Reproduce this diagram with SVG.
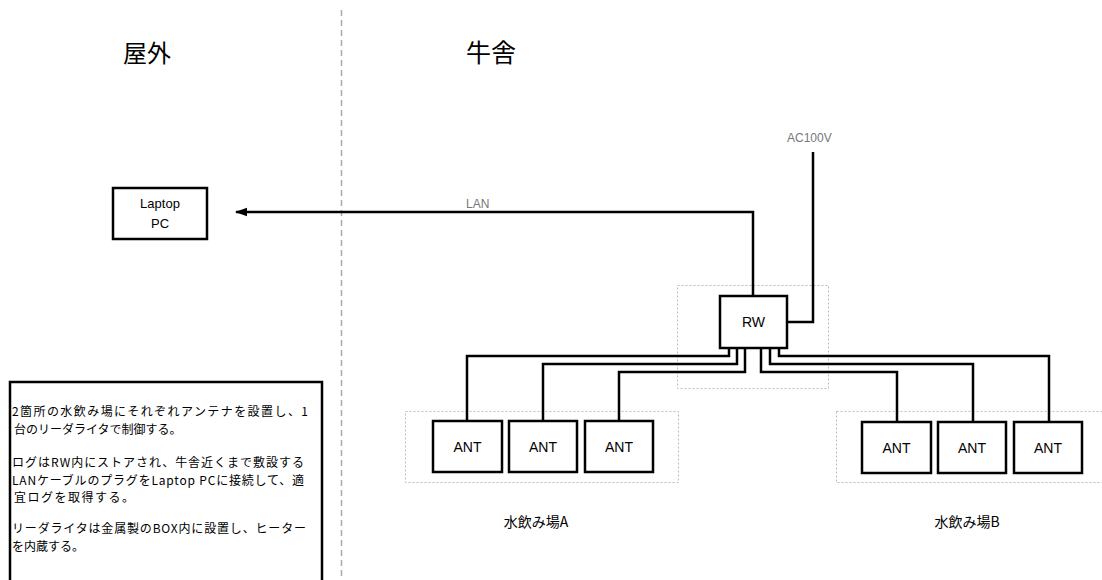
<svg xmlns="http://www.w3.org/2000/svg" width="1102" height="580" viewBox="0 0 1102 580">
<defs>
<style>
.t{font-family:"Liberation Sans","Noto Sans CJK JP",sans-serif;fill:#000}
.j{font-family:"Noto Sans CJK JP","Liberation Sans",sans-serif;fill:#000}
.box{fill:#fff;stroke:#000;stroke-width:2.5}
.wire{fill:none;stroke:#000;stroke-width:2.5}
.grp{fill:none;stroke:#bbb;stroke-width:1;stroke-dasharray:2 2}
.lbl{font-family:"Liberation Sans",sans-serif;fill:#777;font-size:12px}
</style>
<marker id="arr" viewBox="0 0 10 10" refX="9" refY="5" markerWidth="5" markerHeight="5" orient="auto-start-reverse">
<path d="M0,1.5 L10,5 L0,8.5 z" fill="#000"/>
</marker>
</defs>
<rect width="1102" height="580" fill="#fff"/>
<line x1="341.5" y1="10" x2="341.5" y2="580" stroke="#aaa" stroke-width="1.5" stroke-dasharray="6 4"/>
<text class="j" x="123" y="62" font-size="24">屋外</text>
<text class="j" x="466" y="62" font-size="25">牛舎</text>

<rect class="grp" x="677.5" y="285.5" width="151" height="103"/>
<rect class="grp" x="405.5" y="411.5" width="273" height="71"/>
<rect class="grp" x="836.5" y="411.5" width="270" height="71"/>

<g id="connectors">
<path class="wire" d="M753,297 V212 H236" marker-end="url(#arr)"/>
<path class="wire" d="M813,152 V322 H787"/>
<path class="wire" d="M729,348 V356 H467 V421"/>
<path class="wire" d="M737,348 V364 H543 V421"/>
<path class="wire" d="M745,348 V372 H619 V421"/>
<path class="wire" d="M761,348 V372 H897 V422"/>
<path class="wire" d="M770,348 V364 H973 V422"/>
<path class="wire" d="M779,348 V356 H1049 V422"/>
<text class="lbl" x="466" y="208">LAN</text>
<text class="lbl" x="787" y="142">AC100V</text>
</g>

<g id="laptop">
<rect class="box" x="113" y="188" width="94" height="51"/>
<text class="t" x="160" y="208" font-size="13" text-anchor="middle">Laptop</text>
<text class="t" x="160" y="228" font-size="13" text-anchor="middle">PC</text>
</g>
<g id="rw">
<rect class="box" x="720" y="296" width="67" height="52"/>
<text class="t" x="753.5" y="327" font-size="14" text-anchor="middle">RW</text>
</g>
<g id="antA1"><rect class="box" x="433" y="421" width="69" height="51"/><text class="t" x="467.5" y="452" font-size="14" text-anchor="middle">ANT</text></g>
<g id="antA2"><rect class="box" x="509" y="421" width="68" height="51"/><text class="t" x="543" y="452" font-size="14" text-anchor="middle">ANT</text></g>
<g id="antA3"><rect class="box" x="585" y="421" width="68" height="51"/><text class="t" x="619" y="452" font-size="14" text-anchor="middle">ANT</text></g>
<g id="antB1"><rect class="box" x="862" y="422" width="69" height="51"/><text class="t" x="896.5" y="453" font-size="14" text-anchor="middle">ANT</text></g>
<g id="antB2"><rect class="box" x="938" y="422" width="68" height="51"/><text class="t" x="972" y="453" font-size="14" text-anchor="middle">ANT</text></g>
<g id="antB3"><rect class="box" x="1014" y="422" width="68" height="51"/><text class="t" x="1048" y="453" font-size="14" text-anchor="middle">ANT</text></g>

<g id="labelA"><text class="j" x="536" y="527" font-size="14" text-anchor="middle">水飲み場A</text></g>
<g id="labelB"><text class="j" x="967" y="527" font-size="14" text-anchor="middle">水飲み場B</text></g>

<g id="note">
<rect class="box" x="10" y="382" width="312" height="210"/>
<g class="j" font-size="12">
<text x="12" y="416" textLength="296" lengthAdjust="spacing">2箇所の水飲み場にそれぞれアンテナを設置し、1</text>
<text x="14" y="434">台のリーダライタで制御する。</text>
<text x="12" y="467" textLength="292" lengthAdjust="spacing">ログはRW内にストアされ、牛舎近くまで敷設する</text>
<text x="12" y="485" textLength="292" lengthAdjust="spacing">LANケーブルのプラグをLaptop PCに接続して、適</text>
<text x="14" y="502" textLength="120" lengthAdjust="spacing">宜ログを取得する。</text>
<text x="12" y="533" textLength="294" lengthAdjust="spacing">リーダライタは金属製のBOX内に設置し、ヒーター</text>
<text x="12" y="551">を内蔵する。</text>
</g>
</g>
</svg>
